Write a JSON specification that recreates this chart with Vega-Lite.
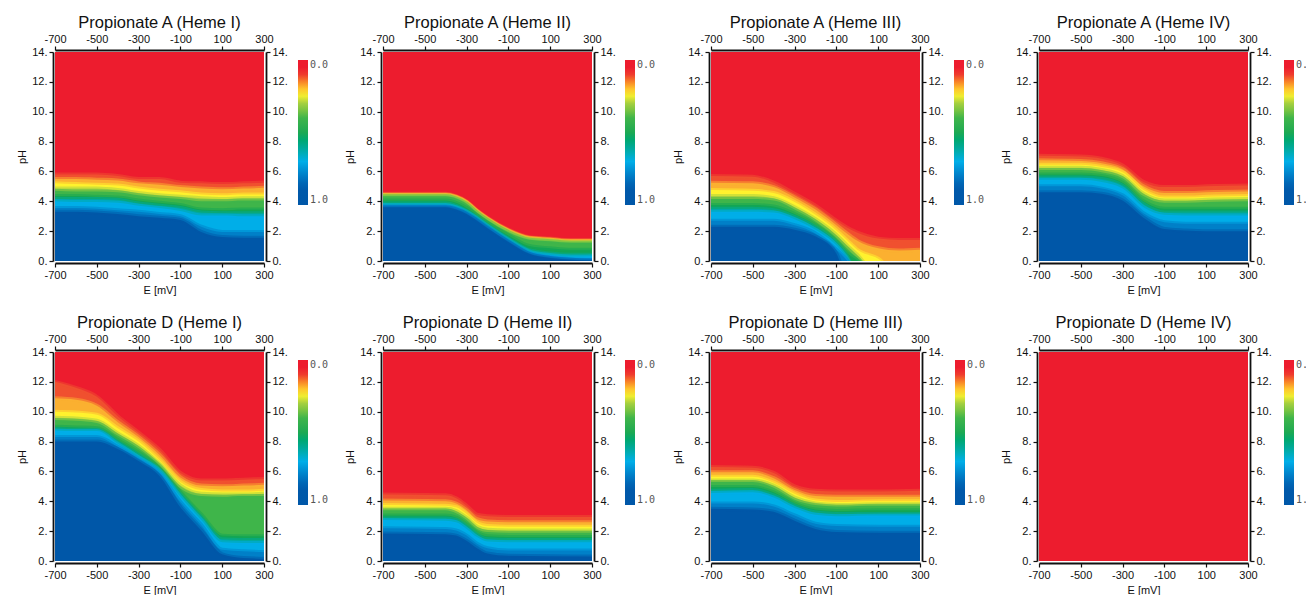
{"$schema":"https://vega.github.io/schema/vega-lite/v6.json","padding":{"left":16,"top":14,"right":0,"bottom":0},"background":"white","columns":4,"spacing":{"column":119,"row":91},"bounds":"flush","resolve":{"legend":{"color":"independent"}},"data":{"name":"d"},
"datasets":{"d":[
{"p":"A1","E":-700,"r":14,"a":5.8,"b":5.5,"c":5.2,"d":4.85,"e":4.7,"f":4.35,"g":4.15,"h":4.0,"i":3.55,"j":3.3},
{"p":"A1","E":-600,"r":14,"a":5.8,"b":5.5,"c":5.15,"d":4.85,"e":4.65,"f":4.35,"g":4.15,"h":3.95,"i":3.55,"j":3.3},
{"p":"A1","E":-500,"r":14,"a":5.8,"b":5.45,"c":5.1,"d":4.85,"e":4.65,"f":4.3,"g":4.15,"h":3.95,"i":3.5,"j":3.25},
{"p":"A1","E":-400,"r":14,"a":5.7,"b":5.4,"c":5.05,"d":4.75,"e":4.6,"f":4.25,"g":4.1,"h":3.9,"i":3.4,"j":3.15},
{"p":"A1","E":-300,"r":14,"a":5.5,"b":5.2,"c":4.85,"d":4.55,"e":4.4,"f":4.05,"g":3.85,"h":3.7,"i":3.3,"j":3.0},
{"p":"A1","E":-200,"r":14,"a":5.5,"b":5.1,"c":4.7,"d":4.4,"e":4.25,"f":3.9,"g":3.7,"h":3.55,"i":3.15,"j":2.9},
{"p":"A1","E":-100,"r":14,"a":5.25,"b":4.95,"c":4.6,"d":4.3,"e":4.15,"f":3.75,"g":3.55,"h":3.35,"i":3.0,"j":2.75},
{"p":"A1","E":0,"r":14,"a":5.2,"b":4.85,"c":4.45,"d":4.2,"e":4.0,"f":3.45,"g":3.25,"h":3.05,"i":2.3,"j":1.95},
{"p":"A1","E":100,"r":14,"a":5.15,"b":4.8,"c":4.4,"d":4.15,"e":4.0,"f":3.4,"g":3.2,"h":3.05,"i":1.95,"j":1.6},
{"p":"A1","E":200,"r":14,"a":5.2,"b":4.85,"c":4.45,"d":4.2,"e":4.05,"f":3.45,"g":3.2,"h":3.0,"i":1.95,"j":1.55},
{"p":"A1","E":300,"r":14,"a":5.25,"b":4.9,"c":4.45,"d":4.2,"e":4.05,"f":3.45,"g":3.2,"h":3.0,"i":1.95,"j":1.55},
{"p":"A2","E":-700,"r":14,"a":4.5,"b":4.46,"c":4.42,"d":4.38,"e":4.33,"f":4.05,"g":3.85,"h":3.75,"i":3.65,"j":3.6},
{"p":"A2","E":-400,"r":14,"a":4.5,"b":4.46,"c":4.42,"d":4.38,"e":4.33,"f":4.05,"g":3.85,"h":3.75,"i":3.65,"j":3.6},
{"p":"A2","E":-350,"r":14,"a":4.35,"b":4.31,"c":4.27,"d":4.23,"e":4.18,"f":3.9,"g":3.7,"h":3.6,"i":3.5,"j":3.45},
{"p":"A2","E":-300,"r":14,"a":4.0,"b":3.96,"c":3.92,"d":3.88,"e":3.83,"f":3.55,"g":3.35,"h":3.3,"i":3.2,"j":3.15},
{"p":"A2","E":-250,"r":14,"a":3.4,"b":3.36,"c":3.32,"d":3.28,"e":3.23,"f":3.05,"g":2.9,"h":2.85,"i":2.75,"j":2.7},
{"p":"A2","E":-200,"r":14,"a":2.9,"b":2.86,"c":2.82,"d":2.78,"e":2.73,"f":2.55,"g":2.4,"h":2.35,"i":2.25,"j":2.2},
{"p":"A2","E":-100,"r":14,"a":2.1,"b":2.06,"c":2.02,"d":1.98,"e":1.93,"f":1.7,"g":1.5,"h":1.42,"i":1.32,"j":1.28},
{"p":"A2","E":0,"r":14,"a":1.6,"b":1.56,"c":1.52,"d":1.48,"e":1.43,"f":1.0,"g":0.72,"h":0.65,"i":0.52,"j":0.48},
{"p":"A2","E":100,"r":14,"a":1.5,"b":1.46,"c":1.42,"d":1.38,"e":1.33,"f":0.85,"g":0.5,"h":0.4,"i":0.25,"j":0.2},
{"p":"A2","E":200,"r":14,"a":1.4,"b":1.36,"c":1.32,"d":1.28,"e":1.23,"f":0.75,"g":0.42,"h":0.3,"i":0.12,"j":0.08},
{"p":"A2","E":300,"r":14,"a":1.4,"b":1.36,"c":1.32,"d":1.28,"e":1.23,"f":0.75,"g":0.42,"h":0.32,"i":0.08,"j":0.03},
{"p":"A3","E":-700,"r":14,"a":5.7,"b":5.25,"c":4.75,"d":4.35,"e":4.15,"f":3.75,"g":3.5,"h":3.3,"i":2.7,"j":2.3},
{"p":"A3","E":-500,"r":14,"a":5.65,"b":5.2,"c":4.7,"d":4.35,"e":4.15,"f":3.75,"g":3.5,"h":3.3,"i":2.7,"j":2.3},
{"p":"A3","E":-400,"r":14,"a":5.25,"b":4.95,"c":4.55,"d":4.2,"e":4.05,"f":3.65,"g":3.4,"h":3.25,"i":2.7,"j":2.3},
{"p":"A3","E":-300,"r":14,"a":4.5,"b":4.25,"c":3.95,"d":3.6,"e":3.45,"f":3.15,"g":2.95,"h":2.8,"i":2.4,"j":2.1},
{"p":"A3","E":-200,"r":14,"a":3.7,"b":3.45,"c":3.1,"d":2.8,"e":2.65,"f":2.4,"g":2.25,"h":2.1,"i":1.85,"j":1.65},
{"p":"A3","E":-100,"r":14,"a":2.7,"b":2.4,"c":2.05,"d":1.75,"e":1.55,"f":1.3,"g":1.2,"h":1.05,"i":0.75,"j":0.5},
{"p":"A3","E":-50,"r":14,"a":2.25,"b":1.85,"c":1.4,"d":1.05,"e":0.85,"f":0.55,"g":0.35,"h":0.2,"i":0.05,"j":-1},
{"p":"A3","E":0,"r":14,"a":1.9,"b":1.35,"c":0.75,"d":0.4,"e":0.2,"f":0.05,"g":-1,"h":-1,"i":-1,"j":-1},
{"p":"A3","E":100,"r":14,"a":1.5,"b":0.85,"c":0.15,"d":-1,"e":-1,"f":-1,"g":-1,"h":-1,"i":-1,"j":-1},
{"p":"A3","E":200,"r":14,"a":1.4,"b":0.7,"c":-1,"d":-1,"e":-1,"f":-1,"g":-1,"h":-1,"i":-1,"j":-1},
{"p":"A3","E":300,"r":14,"a":1.4,"b":0.75,"c":-1,"d":-1,"e":-1,"f":-1,"g":-1,"h":-1,"i":-1,"j":-1},
{"p":"A4","E":-700,"r":14,"a":7.05,"b":6.75,"c":6.45,"d":6.25,"e":6.1,"f":5.8,"g":5.6,"h":5.45,"i":5.0,"j":4.6},
{"p":"A4","E":-500,"r":14,"a":7.0,"b":6.7,"c":6.45,"d":6.25,"e":6.1,"f":5.8,"g":5.6,"h":5.45,"i":5.0,"j":4.6},
{"p":"A4","E":-400,"r":14,"a":6.85,"b":6.55,"c":6.3,"d":6.1,"e":5.95,"f":5.7,"g":5.5,"h":5.3,"i":4.85,"j":4.5},
{"p":"A4","E":-300,"r":14,"a":6.4,"b":6.15,"c":5.95,"d":5.7,"e":5.55,"f":5.25,"g":5.05,"h":4.85,"i":4.4,"j":4.05},
{"p":"A4","E":-200,"r":14,"a":5.3,"b":5.0,"c":4.75,"d":4.5,"e":4.35,"f":4.0,"g":3.8,"h":3.6,"i":3.2,"j":2.9},
{"p":"A4","E":-100,"r":14,"a":4.95,"b":4.55,"c":4.25,"d":4.05,"e":3.9,"f":3.5,"g":3.25,"h":3.1,"i":2.6,"j":2.15},
{"p":"A4","E":0,"r":14,"a":4.95,"b":4.55,"c":4.25,"d":4.05,"e":3.9,"f":3.5,"g":3.25,"h":3.05,"i":2.5,"j":2.05},
{"p":"A4","E":100,"r":14,"a":5.0,"b":4.6,"c":4.3,"d":4.1,"e":3.95,"f":3.5,"g":3.25,"h":3.05,"i":2.5,"j":2.0},
{"p":"A4","E":300,"r":14,"a":5.05,"b":4.65,"c":4.35,"d":4.15,"e":4.0,"f":3.5,"g":3.25,"h":3.05,"i":2.5,"j":2.0},
{"p":"D1","E":-700,"r":14,"a":12.0,"b":10.9,"c":10.0,"d":9.6,"e":9.45,"f":9.0,"g":8.85,"h":8.75,"i":8.3,"j":8.0},
{"p":"D1","E":-600,"r":14,"a":11.6,"b":10.8,"c":9.95,"d":9.55,"e":9.4,"f":8.95,"g":8.8,"h":8.7,"i":8.3,"j":8.0},
{"p":"D1","E":-500,"r":14,"a":11.0,"b":10.4,"c":9.8,"d":9.4,"e":9.25,"f":8.9,"g":8.8,"h":8.7,"i":8.3,"j":8.0},
{"p":"D1","E":-400,"r":14,"a":9.7,"b":9.3,"c":8.9,"d":8.55,"e":8.4,"f":8.1,"g":7.95,"h":7.85,"i":7.65,"j":7.5},
{"p":"D1","E":-300,"r":14,"a":8.6,"b":8.3,"c":8.0,"d":7.7,"e":7.55,"f":7.25,"g":7.1,"h":6.95,"i":6.8,"j":6.7},
{"p":"D1","E":-200,"r":14,"a":7.45,"b":7.1,"c":6.75,"d":6.5,"e":6.4,"f":6.2,"g":6.1,"h":6.05,"i":5.85,"j":5.7},
{"p":"D1","E":-100,"r":14,"a":5.9,"b":5.6,"c":5.3,"d":5.05,"e":4.85,"f":4.6,"g":4.45,"h":4.3,"i":3.95,"j":3.6},
{"p":"D1","E":0,"r":14,"a":5.4,"b":5.05,"c":4.75,"d":4.5,"e":4.35,"f":3.1,"g":2.9,"h":2.75,"i":2.4,"j":2.05},
{"p":"D1","E":100,"r":14,"a":5.4,"b":5.0,"c":4.65,"d":4.45,"e":4.3,"f":1.7,"g":1.45,"h":1.25,"i":0.75,"j":0.45},
{"p":"D1","E":200,"r":14,"a":5.45,"b":5.05,"c":4.65,"d":4.45,"e":4.35,"f":1.65,"g":1.4,"h":1.2,"i":0.65,"j":0.2},
{"p":"D1","E":300,"r":14,"a":5.5,"b":5.1,"c":4.7,"d":4.5,"e":4.35,"f":1.65,"g":1.4,"h":1.2,"i":0.6,"j":0.15},
{"p":"D2","E":-700,"r":14,"a":4.45,"b":4.05,"c":3.75,"d":3.5,"e":3.4,"f":3.05,"g":2.85,"h":2.75,"i":2.2,"j":1.85},
{"p":"D2","E":-400,"r":14,"a":4.4,"b":4.0,"c":3.7,"d":3.5,"e":3.4,"f":3.05,"g":2.85,"h":2.7,"i":2.15,"j":1.8},
{"p":"D2","E":-350,"r":14,"a":4.2,"b":3.85,"c":3.6,"d":3.35,"e":3.2,"f":2.9,"g":2.75,"h":2.6,"i":2.05,"j":1.7},
{"p":"D2","E":-300,"r":14,"a":3.7,"b":3.4,"c":3.15,"d":2.9,"e":2.75,"f":2.45,"g":2.3,"h":2.15,"i":1.7,"j":1.35},
{"p":"D2","E":-250,"r":14,"a":3.1,"b":2.8,"c":2.55,"d":2.3,"e":2.15,"f":1.9,"g":1.75,"h":1.6,"i":1.15,"j":0.85},
{"p":"D2","E":-200,"r":14,"a":3.0,"b":2.65,"c":2.35,"d":2.1,"e":1.95,"f":1.65,"g":1.45,"h":1.3,"i":0.85,"j":0.5},
{"p":"D2","E":-100,"r":14,"a":2.95,"b":2.6,"c":2.3,"d":2.05,"e":1.9,"f":1.6,"g":1.4,"h":1.25,"i":0.7,"j":0.35},
{"p":"D2","E":300,"r":14,"a":2.95,"b":2.6,"c":2.3,"d":2.05,"e":1.9,"f":1.6,"g":1.4,"h":1.25,"i":0.7,"j":0.3},
{"p":"D3","E":-700,"r":14,"a":6.3,"b":5.95,"c":5.65,"d":5.4,"e":5.3,"f":4.95,"g":4.7,"h":4.55,"i":3.85,"j":3.5},
{"p":"D3","E":-500,"r":14,"a":6.25,"b":5.95,"c":5.65,"d":5.4,"e":5.3,"f":4.95,"g":4.75,"h":4.6,"i":3.85,"j":3.45},
{"p":"D3","E":-400,"r":14,"a":5.9,"b":5.55,"c":5.25,"d":5.05,"e":4.9,"f":4.6,"g":4.4,"h":4.25,"i":3.65,"j":3.3},
{"p":"D3","E":-300,"r":14,"a":5.0,"b":4.75,"c":4.5,"d":4.25,"e":4.1,"f":3.85,"g":3.7,"h":3.55,"i":3.05,"j":2.7},
{"p":"D3","E":-200,"r":14,"a":4.7,"b":4.35,"c":4.05,"d":3.85,"e":3.75,"f":3.45,"g":3.25,"h":3.1,"i":2.5,"j":2.15},
{"p":"D3","E":-100,"r":14,"a":4.65,"b":4.3,"c":3.95,"d":3.75,"e":3.65,"f":3.35,"g":3.15,"h":3.0,"i":2.35,"j":1.95},
{"p":"D3","E":100,"r":14,"a":4.65,"b":4.3,"c":4.0,"d":3.8,"e":3.7,"f":3.4,"g":3.15,"h":3.05,"i":2.3,"j":1.9},
{"p":"D3","E":300,"r":14,"a":4.7,"b":4.3,"c":4.0,"d":3.8,"e":3.7,"f":3.4,"g":3.15,"h":3.05,"i":2.3,"j":1.9},
{"p":"D4","E":-700,"r":14},
{"p":"D4","E":300,"r":14}
]},
"config":{"view":{"stroke":null},"font":"Liberation Sans","range":{"category":["#f0502f","#fbb030","#fff22e","#a4cf3f","#3fb54a","#12a654","#00a9a0","#00aee8","#0080c8","#0057a8","#ed1c2e"]},"title":{"fontSize":16.5,"fontWeight":"normal","color":"#111","anchor":"middle","offset":2},
"area":{"interpolate":"monotone","strokeWidth":4,"strokeOpacity":0.5},
"axis":{"grid":false,"domainColor":"#111","domainWidth":1.8,"tickColor":"#111","tickWidth":1.2,"tickSize":4,"labelFontSize":11,"labelColor":"#111","labelPadding":2,"labelOverlap":false,"labelFlush":false,"titleFontSize":11,"titleFontWeight":"normal","titleColor":"#111","offset":2},
"legend":{"orient":"none","title":null,"gradientThickness":10,"gradientLength":145,"labelFont":"DejaVu Sans Mono","labelFontSize":10,"labelColor":"#555","labelOffset":1,"format":".1f"}},
"concat":[
{"title":"Propionate A (Heme I)","width":209,"height":209,"transform":[{"filter":{"field":"p","equal":"A1"}},{"fold":["r","a","b","c","d","e","f","g","h","i","j"]}],"layer":[
{"mark":{"type":"area","clip":true},"encoding":{"x":{"field":"E","type":"quantitative","scale":{"domain":[-700,300],"nice":false},"axis":{"orient":"bottom","title":"E [mV]","values":[-700,-500,-300,-100,100,300],"labelExpr":"replace(datum.label,'−','-')"}},"y":{"field":"value","type":"quantitative","scale":{"domain":[0,14],"nice":false},"axis":{"orient":"left","title":"pH","values":[0,2,4,6,8,10,12,14],"labelExpr":"datum.label+'.'"}},"y2":{"datum":-1},"fill":{"field":"key","type":"nominal","legend":null},"stroke":{"field":"key","type":"nominal","legend":null}}},
{"mark":{"type":"point","opacity":0,"filled":true},"encoding":{"x":{"field":"E","type":"quantitative","axis":{"orient":"top","title":null,"values":[-700,-500,-300,-100,100,300],"labelExpr":"replace(datum.label,'−','-')"}},"y":{"field":"value","type":"quantitative","axis":{"orient":"right","title":null,"values":[0,2,4,6,8,10,12,14],"labelExpr":"datum.label+'.'"}},"color":{"field":"value","type":"quantitative","scale":{"domain":[1,0.88,0.78,0.7,0.62,0.52,0.4,0.3,0.24,0.18,0.12,0.08,0],"range":["#0057a8","#0059aa","#0085cc","#00aee8","#00a9a0","#12a654","#3fb54a","#a4cf3f","#fff22e","#fbb030","#f0502f","#ed1c2e","#ed1c2e"]},"legend":{"values":[0,1],"legendX":243,"legendY":8}}}}],
"resolve":{"axis":{"x":"independent","y":"independent"}}},
{"title":"Propionate A (Heme II)","width":209,"height":209,"transform":[{"filter":{"field":"p","equal":"A2"}},{"fold":["r","a","b","c","d","e","f","g","h","i","j"]}],"layer":[
{"mark":{"type":"area","clip":true},"encoding":{"x":{"field":"E","type":"quantitative","scale":{"domain":[-700,300],"nice":false},"axis":{"orient":"bottom","title":"E [mV]","values":[-700,-500,-300,-100,100,300],"labelExpr":"replace(datum.label,'−','-')"}},"y":{"field":"value","type":"quantitative","scale":{"domain":[0,14],"nice":false},"axis":{"orient":"left","title":"pH","values":[0,2,4,6,8,10,12,14],"labelExpr":"datum.label+'.'"}},"y2":{"datum":-1},"fill":{"field":"key","type":"nominal","legend":null},"stroke":{"field":"key","type":"nominal","legend":null}}},
{"mark":{"type":"point","opacity":0,"filled":true},"encoding":{"x":{"field":"E","type":"quantitative","axis":{"orient":"top","title":null,"values":[-700,-500,-300,-100,100,300],"labelExpr":"replace(datum.label,'−','-')"}},"y":{"field":"value","type":"quantitative","axis":{"orient":"right","title":null,"values":[0,2,4,6,8,10,12,14],"labelExpr":"datum.label+'.'"}},"color":{"field":"value","type":"quantitative","legend":{"values":[0,1],"legendX":242,"legendY":8}}}}],
"resolve":{"axis":{"x":"independent","y":"independent"}}},
{"title":"Propionate A (Heme III)","width":209,"height":209,"transform":[{"filter":{"field":"p","equal":"A3"}},{"fold":["r","a","b","c","d","e","f","g","h","i","j"]}],"layer":[
{"mark":{"type":"area","clip":true},"encoding":{"x":{"field":"E","type":"quantitative","scale":{"domain":[-700,300],"nice":false},"axis":{"orient":"bottom","title":"E [mV]","values":[-700,-500,-300,-100,100,300],"labelExpr":"replace(datum.label,'−','-')"}},"y":{"field":"value","type":"quantitative","scale":{"domain":[0,14],"nice":false},"axis":{"orient":"left","title":"pH","values":[0,2,4,6,8,10,12,14],"labelExpr":"datum.label+'.'"}},"y2":{"datum":-1},"fill":{"field":"key","type":"nominal","legend":null},"stroke":{"field":"key","type":"nominal","legend":null}}},
{"mark":{"type":"point","opacity":0,"filled":true},"encoding":{"x":{"field":"E","type":"quantitative","axis":{"orient":"top","title":null,"values":[-700,-500,-300,-100,100,300],"labelExpr":"replace(datum.label,'−','-')"}},"y":{"field":"value","type":"quantitative","axis":{"orient":"right","title":null,"values":[0,2,4,6,8,10,12,14],"labelExpr":"datum.label+'.'"}},"color":{"field":"value","type":"quantitative","legend":{"values":[0,1],"legendX":243,"legendY":8}}}}],
"resolve":{"axis":{"x":"independent","y":"independent"}}},
{"title":"Propionate A (Heme IV)","width":209,"height":209,"transform":[{"filter":{"field":"p","equal":"A4"}},{"fold":["r","a","b","c","d","e","f","g","h","i","j"]}],"layer":[
{"mark":{"type":"area","clip":true},"encoding":{"x":{"field":"E","type":"quantitative","scale":{"domain":[-700,300],"nice":false},"axis":{"orient":"bottom","title":"E [mV]","values":[-700,-500,-300,-100,100,300],"labelExpr":"replace(datum.label,'−','-')"}},"y":{"field":"value","type":"quantitative","scale":{"domain":[0,14],"nice":false},"axis":{"orient":"left","title":"pH","values":[0,2,4,6,8,10,12,14],"labelExpr":"datum.label+'.'"}},"y2":{"datum":-1},"fill":{"field":"key","type":"nominal","legend":null},"stroke":{"field":"key","type":"nominal","legend":null}}},
{"mark":{"type":"point","opacity":0,"filled":true},"encoding":{"x":{"field":"E","type":"quantitative","axis":{"orient":"top","title":null,"values":[-700,-500,-300,-100,100,300],"labelExpr":"replace(datum.label,'−','-')"}},"y":{"field":"value","type":"quantitative","axis":{"orient":"right","title":null,"values":[0,2,4,6,8,10,12,14],"labelExpr":"datum.label+'.'"}},"color":{"field":"value","type":"quantitative","legend":{"values":[0,1],"legendX":245,"legendY":8}}}}],
"resolve":{"axis":{"x":"independent","y":"independent"}}},
{"title":"Propionate D (Heme I)","width":209,"height":209,"transform":[{"filter":{"field":"p","equal":"D1"}},{"fold":["r","a","b","c","d","e","f","g","h","i","j"]}],"layer":[
{"mark":{"type":"area","clip":true},"encoding":{"x":{"field":"E","type":"quantitative","scale":{"domain":[-700,300],"nice":false},"axis":{"orient":"bottom","title":"E [mV]","values":[-700,-500,-300,-100,100,300],"labelExpr":"replace(datum.label,'−','-')"}},"y":{"field":"value","type":"quantitative","scale":{"domain":[0,14],"nice":false},"axis":{"orient":"left","title":"pH","values":[0,2,4,6,8,10,12,14],"labelExpr":"datum.label+'.'"}},"y2":{"datum":-1},"fill":{"field":"key","type":"nominal","legend":null},"stroke":{"field":"key","type":"nominal","legend":null}}},
{"mark":{"type":"point","opacity":0,"filled":true},"encoding":{"x":{"field":"E","type":"quantitative","axis":{"orient":"top","title":null,"values":[-700,-500,-300,-100,100,300],"labelExpr":"replace(datum.label,'−','-')"}},"y":{"field":"value","type":"quantitative","axis":{"orient":"right","title":null,"values":[0,2,4,6,8,10,12,14],"labelExpr":"datum.label+'.'"}},"color":{"field":"value","type":"quantitative","legend":{"values":[0,1],"legendX":243,"legendY":8}}}}],
"resolve":{"axis":{"x":"independent","y":"independent"}}},
{"title":"Propionate D (Heme II)","width":209,"height":209,"transform":[{"filter":{"field":"p","equal":"D2"}},{"fold":["r","a","b","c","d","e","f","g","h","i","j"]}],"layer":[
{"mark":{"type":"area","clip":true},"encoding":{"x":{"field":"E","type":"quantitative","scale":{"domain":[-700,300],"nice":false},"axis":{"orient":"bottom","title":"E [mV]","values":[-700,-500,-300,-100,100,300],"labelExpr":"replace(datum.label,'−','-')"}},"y":{"field":"value","type":"quantitative","scale":{"domain":[0,14],"nice":false},"axis":{"orient":"left","title":"pH","values":[0,2,4,6,8,10,12,14],"labelExpr":"datum.label+'.'"}},"y2":{"datum":-1},"fill":{"field":"key","type":"nominal","legend":null},"stroke":{"field":"key","type":"nominal","legend":null}}},
{"mark":{"type":"point","opacity":0,"filled":true},"encoding":{"x":{"field":"E","type":"quantitative","axis":{"orient":"top","title":null,"values":[-700,-500,-300,-100,100,300],"labelExpr":"replace(datum.label,'−','-')"}},"y":{"field":"value","type":"quantitative","axis":{"orient":"right","title":null,"values":[0,2,4,6,8,10,12,14],"labelExpr":"datum.label+'.'"}},"color":{"field":"value","type":"quantitative","legend":{"values":[0,1],"legendX":242,"legendY":8}}}}],
"resolve":{"axis":{"x":"independent","y":"independent"}}},
{"title":"Propionate D (Heme III)","width":209,"height":209,"transform":[{"filter":{"field":"p","equal":"D3"}},{"fold":["r","a","b","c","d","e","f","g","h","i","j"]}],"layer":[
{"mark":{"type":"area","clip":true},"encoding":{"x":{"field":"E","type":"quantitative","scale":{"domain":[-700,300],"nice":false},"axis":{"orient":"bottom","title":"E [mV]","values":[-700,-500,-300,-100,100,300],"labelExpr":"replace(datum.label,'−','-')"}},"y":{"field":"value","type":"quantitative","scale":{"domain":[0,14],"nice":false},"axis":{"orient":"left","title":"pH","values":[0,2,4,6,8,10,12,14],"labelExpr":"datum.label+'.'"}},"y2":{"datum":-1},"fill":{"field":"key","type":"nominal","legend":null},"stroke":{"field":"key","type":"nominal","legend":null}}},
{"mark":{"type":"point","opacity":0,"filled":true},"encoding":{"x":{"field":"E","type":"quantitative","axis":{"orient":"top","title":null,"values":[-700,-500,-300,-100,100,300],"labelExpr":"replace(datum.label,'−','-')"}},"y":{"field":"value","type":"quantitative","axis":{"orient":"right","title":null,"values":[0,2,4,6,8,10,12,14],"labelExpr":"datum.label+'.'"}},"color":{"field":"value","type":"quantitative","legend":{"values":[0,1],"legendX":244,"legendY":8}}}}],
"resolve":{"axis":{"x":"independent","y":"independent"}}},
{"title":"Propionate D (Heme IV)","width":209,"height":209,"transform":[{"filter":{"field":"p","equal":"D4"}},{"fold":["r","a","b","c","d","e","f","g","h","i","j"]}],"layer":[
{"mark":{"type":"area","clip":true},"encoding":{"x":{"field":"E","type":"quantitative","scale":{"domain":[-700,300],"nice":false},"axis":{"orient":"bottom","title":"E [mV]","values":[-700,-500,-300,-100,100,300],"labelExpr":"replace(datum.label,'−','-')"}},"y":{"field":"value","type":"quantitative","scale":{"domain":[0,14],"nice":false},"axis":{"orient":"left","title":"pH","values":[0,2,4,6,8,10,12,14],"labelExpr":"datum.label+'.'"}},"y2":{"datum":-1},"fill":{"field":"key","type":"nominal","legend":null},"stroke":{"field":"key","type":"nominal","legend":null}}},
{"mark":{"type":"point","opacity":0,"filled":true},"encoding":{"x":{"field":"E","type":"quantitative","axis":{"orient":"top","title":null,"values":[-700,-500,-300,-100,100,300],"labelExpr":"replace(datum.label,'−','-')"}},"y":{"field":"value","type":"quantitative","axis":{"orient":"right","title":null,"values":[0,2,4,6,8,10,12,14],"labelExpr":"datum.label+'.'"}},"color":{"field":"value","type":"quantitative","legend":{"values":[0,1],"legendX":245,"legendY":8}}}}],
"resolve":{"axis":{"x":"independent","y":"independent"}}}
]}
